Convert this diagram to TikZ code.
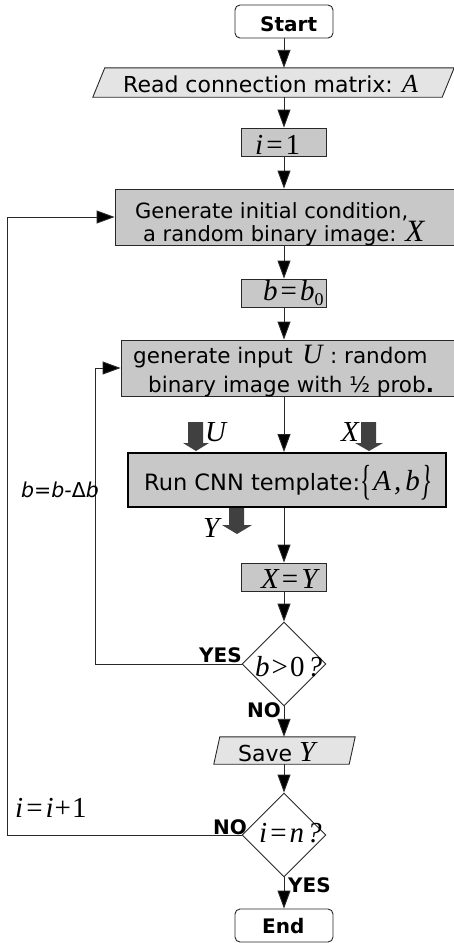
\documentclass[tikz,border=0pt]{standalone}
\usepackage{fontspec}
\usepackage{graphicx}
\setmainfont{DejaVu Sans}
\newfontfamily\tms{Liberation Serif}
\usetikzlibrary{arrows.meta,shapes.geometric,calc}
\definecolor{boxgray}{RGB}{200,200,200}
\definecolor{iogray}{RGB}{228,228,228}
\definecolor{blockgray}{RGB}{64,64,64}
\definecolor{linegray}{RGB}{40,40,40}
\newcommand{\mvar}[1]{{\tms\itshape #1}}
\newcommand{\meq}{{\tms\kern3pt=\kern3pt}}
\begin{document}
\begin{tikzpicture}[x=1pt,y=-1pt,
  ln/.style={draw=linegray,line width=0.9pt},
  arr/.style={ln,-{Triangle[length=18pt,width=13pt,fill=black]}},
  proc/.style={draw=linegray,line width=0.9pt,fill=boxgray,inner sep=0pt},
  small/.style={proc,minimum width=85pt,minimum height=28pt},
  term/.style={draw=linegray,line width=0.9pt,fill=white,rounded corners=5pt,inner sep=0pt,minimum width=98pt,minimum height=33pt},
  io/.style={draw=linegray,line width=0.9pt,fill=iogray},
  dec/.style={diamond,draw=linegray,line width=0.9pt,fill=white,inner sep=0pt,minimum width=84pt,minimum height=84pt,aspect=1},
  txt/.style={font=\fontsize{22}{23}\selectfont,inner sep=0pt},
  mtxt/.style={font=\fontsize{29}{30}\selectfont,inner sep=0pt},
  btxt/.style={font=\fontsize{20}{22}\selectfont\bfseries,inner sep=0pt},
  blk/.style={fill=blockgray,draw=none}]
\useasboundingbox (0,0) rectangle (453,943);

% terminals
\node[term] (start) at (284,21.5) {};
\node[btxt,anchor=base west] (startt) at (260,31) {Start};
\node[term] (end) at (284,925.5) {};
\node[btxt,anchor=base west] (endt) at (262,933) {End};

% read input
\node[minimum width=349pt,minimum height=29pt,inner sep=0pt] (read) at (273.5,82.5) {};
\filldraw[io] ($(read.south west)+(-6,0)$) -- ($(read.north west)+(6,0)$) -- ($(read.north east)+(6,0)$) -- ($(read.south east)+(-6,0)$) -- cycle;
\node[txt,anchor=base west] (readt) at (123,92) {Read connection matrix: {\fontsize{26}{27}\selectfont\mvar{A}}};

% i = 1
\node[small] (i1) at (284,142) {};
\node[mtxt,anchor=base west] (i1t) at (255,154) {\mvar{i}\meq{\tms 1}};

% generate initial condition
\node[proc,minimum width=345pt,minimum height=56pt] (gen) at (287.5,217) {};
\node[txt,font=\fontsize{21}{23}\selectfont,align=left,anchor=base west] (gent) at (135,241) {Generate initial condition,\\\hspace*{8pt}a random binary image: {\fontsize{31}{31}\selectfont\mvar{X}}};

% b = b0
\node[small] (b0) at (284,293) {};
\node[mtxt,anchor=base west] (b0t) at (263,300) {\mvar{b}\meq\mvar{b}{\tms\raisebox{-5pt}{\fontsize{18}{18}\selectfont 0}}};

% generate input
\node[proc,minimum width=339pt,minimum height=56pt] (inp) at (290.5,368) {};
\node[txt,font=\fontsize{21.5}{23}\selectfont,align=left,anchor=base west] (inpt) at (133,392) {generate input\hspace{0.45em}{\fontsize{28}{28}\selectfont\mvar{U}}\hspace{0.35em}: random\\[6pt]\hspace*{15pt}binary image with ½ prob\textbf{.}};

% CNN
\node[draw=black,line width=2pt,fill=boxgray,inner sep=0pt,minimum width=318pt,minimum height=54pt] (cnn) at (287,480) {};
\node[txt,font=\fontsize{22.5}{24}\selectfont,anchor=base west] (cnnt) at (144,490) {Run CNN template:{\tms\fontsize{29}{30}\selectfont\raisebox{-4pt}{\scalebox{0.8}[1.45]{\{}}\kern2pt\itshape A\kern3pt,\kern4pt b\kern2pt\raisebox{-4pt}{\scalebox{0.8}[1.45]{\}}}}};

% block arrows
\fill[blk] (188,422) -- (203,422) -- (203,443) -- (209,443) -- (196,451) -- (183,443) -- (188,443) -- cycle;
\fill[blk] (361,422) -- (376,422) -- (376,443) -- (383,443) -- (369,451) -- (355,443) -- (361,443) -- cycle;
\fill[blk] (229,508) -- (244,508) -- (244,525) -- (252,525) -- (237,534) -- (222,525) -- (229,525) -- cycle;
\node[mtxt,anchor=base west] (ulab) at (205,441) {\mvar{U}};
\node[mtxt,anchor=base west] (xlab) at (341,441) {\mvar{X}};
\node[mtxt,anchor=base west] (ylab) at (203,537) {\mvar{Y}};

% X = Y
\node[small] (xy) at (284,577) {};
\node[mtxt,anchor=base west] (xyt) at (261,588) {\mvar{X}\meq\mvar{Y}};

% decision b>0
\node[dec] (d1) at (284,664) {};
\node[mtxt,anchor=base west] (d1t) at (255,676) {\mvar{b}\kern2pt{\tms>}\kern2pt{\tms 0}\kern3pt\mvar{?}};

% save
\node[minimum width=135pt,minimum height=27pt,inner sep=0pt] (save) at (284.5,750.5) {};
\filldraw[io] ($(save.south west)+(-3,0)$) -- ($(save.north west)+(3,0)$) -- ($(save.north east)+(3,0)$) -- ($(save.south east)+(-3,0)$) -- cycle;
\node[txt,anchor=base west] (savet) at (238,761) {Save {\fontsize{29}{30}\selectfont\mvar{Y}}};

% decision i=n
\node[dec] (d2) at (284,835) {};
\node[mtxt,anchor=base west] (d2t) at (259,842) {\mvar{i}\meq\mvar{n}\kern3pt\mvar{?}};

% connectors
\draw[arr] (start.south) -- (start.south |- read.north);
\draw[arr] (i1.north |- read.south) -- (i1.north);
\draw[arr] (i1.south) -- (i1.south |- gen.north);
\draw[arr] (b0.north |- gen.south) -- (b0.north);
\draw[arr] (b0.south) -- (b0.south |- inp.north);
\draw[arr] (xy.north |- inp.south) -- (xy.north |- cnn.north);
\draw[arr] (xy.north |- cnn.south) -- (xy.north);
\draw[arr] (xy.south) -- (d1.north);
\draw[arr] (d1.south) -- (d1.south |- save.north);
\draw[arr] (d2.north |- save.south) -- (d2.north);
\draw[arr] (d2.south) -- (end.north);
\coordinate (yesb) at (95,368);
\coordinate (nob) at (7,217);
\draw[arr] (d1.west) -| (yesb) -- (inp.west);
\draw[arr] (d2.west) -| (nob) -- (gen.west);

% labels
\node[btxt,anchor=base west] (yes1) at (199,662) {YES};
\node[btxt,anchor=base west] (no1) at (247,717) {NO};
\node[btxt,anchor=base west] (no2) at (213,834) {NO};
\node[btxt,anchor=base west] (yes2) at (288,892) {YES};
\node[font=\fontsize{20.5}{21}\selectfont\itshape,inner sep=0pt,anchor=base west] (bdb) at (21,497) {b=b-{\upshape Δ}b};
\node[mtxt,anchor=base west] (inc) at (15,817) {\mvar{i}\meq\mvar{i}\kern1pt{\tms+}\kern1pt{\tms 1}};
\end{tikzpicture}
\end{document}
